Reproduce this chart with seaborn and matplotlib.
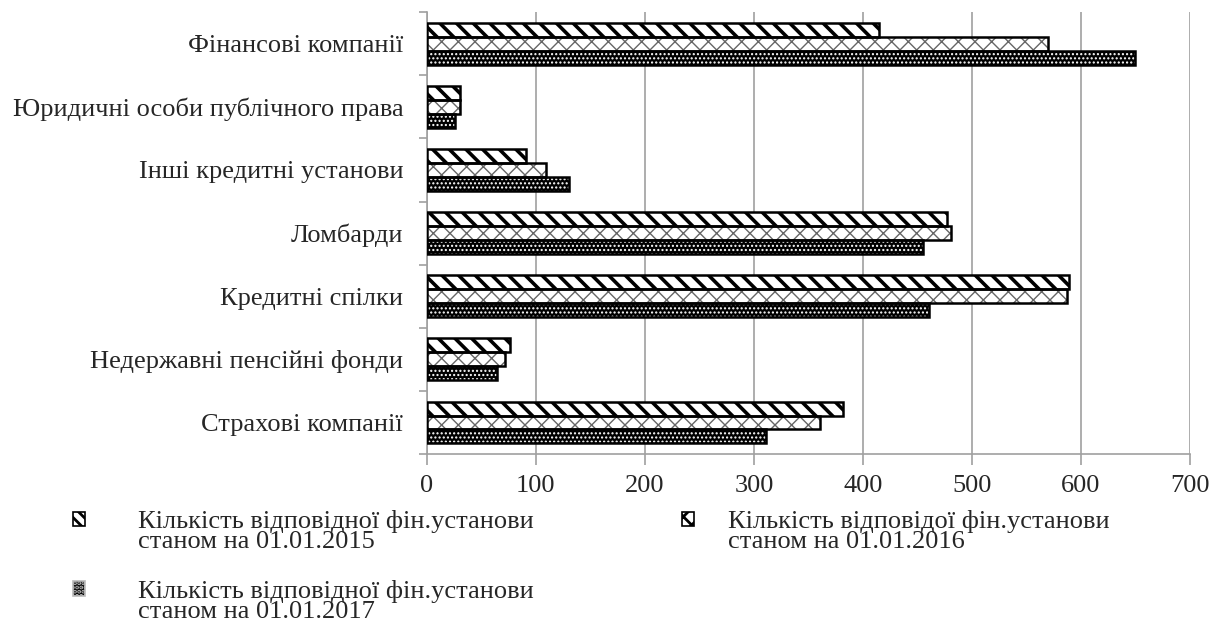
import numpy as np
import pandas as pd
import matplotlib
matplotlib.use("Agg")
import matplotlib.pyplot as plt
from matplotlib.patches import Patch, Rectangle
from matplotlib.legend_handler import HandlerPatch
import seaborn as sns

categories = ["Фінансові компанії", "Юридичні особи публічного права",
              "Інші кредитні установи", "Ломбарди", "Кредитні спілки",
              "Недержавні пенсійні фонди", "Страхові компанії"]
vals_2015 = [415, 30, 91, 477, 589, 76, 382]
vals_2016 = [570, 30, 109, 481, 587, 72, 361]
vals_2017 = [650, 26, 130, 455, 461, 64, 311]
series = ["Кількість відповідної фін.установи\nстаном на 01.01.2015",
          "Кількість відповідої фін.установи\nстаном на 01.01.2016",
          "Кількість відповідної фін.установи\nстаном на 01.01.2017"]
x_ticks = [0, 100, 200, 300, 400, 500, 600, 700]

df = pd.DataFrame({
    "cat": categories * 3,
    "val": vals_2015 + vals_2016 + vals_2017,
    "year": [series[0]] * 7 + [series[1]] * 7 + [series[2]] * 7,
})

sns.set_theme(style="white")
plt.rcParams["font.family"] = ["Liberation Serif", "DejaVu Serif"]
plt.rcParams["hatch.linewidth"] = 2.0

FS = 19
fig, ax = plt.subplots(figsize=(12.23, 6.39), dpi=100)
fig.subplots_adjust(left=0.349, right=0.973, top=0.981, bottom=0.2895)

sns.barplot(data=df, x="val", y="cat", hue="year", order=categories,
            hue_order=series, orient="h", width=0.66, gap=0, ax=ax,
            legend=False, errorbar=None)

# facecolor, hatch, hatch colour, hatch linewidth
styles = [("white", "\\\\", "black", 2.6),
          ("white", "xx", "#666666", 1.0),
          ("black", "....", "white", 1.0)]


def style_patch(p, st):
    fc, h, hc, hlw = st
    p.set_facecolor(fc)
    p.set_hatch(h)
    p.set_edgecolor(hc)
    if hasattr(p, "set_hatch_linewidth"):
        p.set_hatch_linewidth(hlw)


for cont, st in zip(ax.containers, styles):
    for p in cont:
        style_patch(p, st)
        p.set_linewidth(0)
        ax.add_patch(Rectangle(p.get_xy(), p.get_width(), p.get_height(),
                               fill=False, ec="black", lw=1.8, zorder=3))

ax.set_xlim(0, 700)
ax.set_ylim(6.5, -0.5)
ax.set_xticks(x_ticks)
ax.set_xticklabels([str(t) for t in x_ticks], fontsize=FS)
ax.set_yticks(range(len(categories)))
ax.set_yticklabels(categories, fontsize=FS)
ax.set_yticks(np.arange(-0.5, 7, 1), minor=True)
ax.tick_params(axis="y", which="major", length=0, pad=17)
ax.tick_params(axis="y", which="minor", length=6, color="#a0a0a0", width=1.2, left=True)
ax.tick_params(axis="x", length=8, color="#a0a0a0", width=1.2, bottom=True, pad=7)
ax.set_xlabel("")
ax.set_ylabel("")
ax.grid(axis="x", color="#a0a0a0", lw=1.2)
ax.set_axisbelow(True)
for s in ["top", "right"]:
    ax.spines[s].set_visible(False)
for s in ["left", "bottom"]:
    ax.spines[s].set_color("#a0a0a0")
    ax.spines[s].set_linewidth(1.2)


def top_box(legend, orig_handle, xdescent, ydescent, width, height, fontsize):
    # square marker sitting at the first text line, as in the original
    return Rectangle((-xdescent, -ydescent + 0.45 * fontsize), width, height)


leg_styles = [("white", "\\\\\\", "black", 2.0),
              ("white", "xx", "black", 0.8),
              ("black", "....", "#bbbbbb", 0.8)]
handles = []
for st, lab in zip(leg_styles, series):
    hp = Patch(label=lab)
    style_patch(hp, st)
    hp.set_linewidth(1.2)
    handles.append(hp)

common = dict(loc="upper left", frameon=False, fontsize=FS, handlelength=0.45,
              handleheight=0.45, labelspacing=1.0, borderpad=0, borderaxespad=0,
              handler_map={Patch: HandlerPatch(patch_func=top_box)})
leg1 = fig.legend([handles[0], handles[2]], [series[0], series[2]],
                  bbox_to_anchor=(73 / 1223, 1 - 510 / 639),
                  handletextpad=2.0, **common)
leg2 = fig.legend([handles[1]], [series[1]],
                  bbox_to_anchor=(682 / 1223, 1 - 510 / 639),
                  handletextpad=1.3, **common)
for lg in (leg1, leg2):
    for t in lg.get_texts():
        t.set_linespacing(0.9)

fig.savefig("out.png", dpi=100)
